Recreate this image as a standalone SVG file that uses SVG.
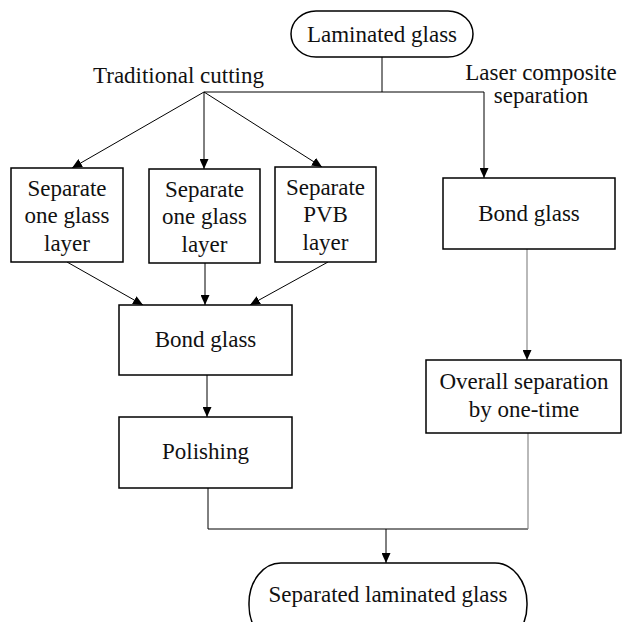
<svg xmlns="http://www.w3.org/2000/svg" width="622" height="622" viewBox="0 0 622 622">
<style>
.box{fill:#fff;stroke:#000;stroke-width:1.5}
.t{font-family:'Liberation Serif','Times New Roman',Times,'DejaVu Serif',serif;font-size:23px;fill:#111;text-anchor:middle}
.c{fill:none;stroke:#000;stroke-width:1}
.g{fill:none;stroke:#8a8a8a;stroke-width:1.2}
</style>
<defs>
<marker id="ah" markerUnits="userSpaceOnUse" markerWidth="10" markerHeight="9" refX="10" refY="4.5" orient="auto">
<path d="M0,0 L10,4.5 L0,9 z" fill="#000"/>
</marker>
</defs>
<rect width="622" height="622" fill="#fff"/>
<g id="connectors">
<line class="c" x1="382" y1="57" x2="382" y2="92"/>
<line class="c" x1="204" y1="92" x2="484" y2="92"/>
<line class="c" x1="484" y1="92" x2="484" y2="178" marker-end="url(#ah)"/>
<line class="c" x1="204" y1="92" x2="72" y2="168" marker-end="url(#ah)"/>
<line class="c" x1="204" y1="92" x2="204" y2="169" marker-end="url(#ah)"/>
<line class="c" x1="204" y1="92" x2="322" y2="167" marker-end="url(#ah)"/>
<line class="c" x1="67" y1="262" x2="143" y2="305" marker-end="url(#ah)"/>
<line class="c" x1="205" y1="263" x2="205" y2="305" marker-end="url(#ah)"/>
<line class="c" x1="328" y1="262" x2="250" y2="305" marker-end="url(#ah)"/>
<line class="c" x1="207" y1="375" x2="207" y2="417" marker-end="url(#ah)"/>
<line class="g" x1="527" y1="249" x2="527" y2="360" marker-end="url(#ah)"/>
<polyline class="c" points="208,488 208,529 528,529"/>
<line class="g" x1="528" y1="433" x2="528" y2="529"/>
<line class="c" x1="386" y1="529" x2="386" y2="563" marker-end="url(#ah)"/>
</g>
<g font-family="Liberation Serif, serif">
<g id="label-traditional"><text class="t" x="178.5" y="83">Traditional cutting</text></g>
<g id="label-laser"><text class="t" x="541" y="80">Laser composite</text><text class="t" x="541" y="103">separation</text></g>
<g id="laminated-glass">
<rect class="box" x="291" y="11" width="182" height="46" rx="25" ry="23"/>
<text class="t" x="382" y="42">Laminated glass</text>
</g>
<g id="sep-glass-1">
<rect class="box" x="11" y="168" width="112" height="94"/>
<text class="t" x="67" y="196">Separate</text><text class="t" x="67" y="223">one glass</text><text class="t" x="67" y="251">layer</text>
</g>
<g id="sep-glass-2">
<rect class="box" x="149" y="169" width="111" height="94"/>
<text class="t" x="204.5" y="197">Separate</text><text class="t" x="204.5" y="224">one glass</text><text class="t" x="204.5" y="252">layer</text>
</g>
<g id="sep-pvb">
<rect class="box" x="275" y="167" width="101" height="95"/>
<text class="t" x="325.5" y="195">Separate</text><text class="t" x="325.5" y="222">PVB</text><text class="t" x="325.5" y="250">layer</text>
</g>
<g id="bond-glass-left">
<rect class="box" x="119" y="305" width="173" height="70"/>
<text class="t" x="205.5" y="347">Bond glass</text>
</g>
<g id="polishing">
<rect class="box" x="119" y="417" width="173" height="71"/>
<text class="t" x="205.5" y="459">Polishing</text>
</g>
<g id="bond-glass-right">
<rect class="box" x="443" y="178" width="172" height="71"/>
<text class="t" x="529" y="221">Bond glass</text>
</g>
<g id="overall-separation">
<rect class="box" x="426" y="360" width="195" height="73"/>
<text class="t" x="524" y="389">Overall separation</text><text class="t" x="524" y="417">by one-time</text>
</g>
<g id="separated-laminated-glass">
<rect class="box" x="249" y="563" width="278" height="82" rx="32" ry="40"/>
<text class="t" x="388" y="602">Separated laminated glass</text>
</g>
</g>
</svg>
